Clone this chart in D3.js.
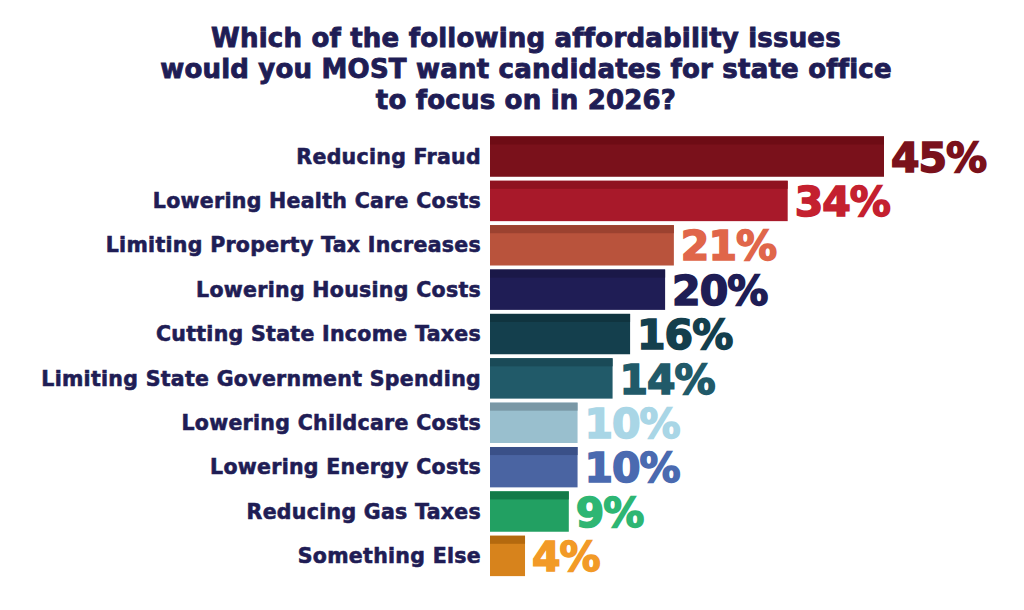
<!DOCTYPE html>
<html><head><meta charset="utf-8">
<script src="https://cdn.jsdelivr.net/npm/d3@7"></script>
<style>body{margin:0;background:#fff}</style></head>
<body><svg id="c" width="1024" height="610"></svg>
<script>
const categories=["Reducing Fraud","Lowering Health Care Costs","Limiting Property Tax Increases","Lowering Housing Costs","Cutting State Income Taxes","Limiting State Government Spending","Lowering Childcare Costs","Lowering Energy Costs","Reducing Gas Taxes","Something Else"];
const values=[45,34,21,20,16,14,10,10,9,4];
const barColors=["#7a111b","#a8192a","#b9533c","#1f1d55","#143f4d","#215a69","#99bfce","#4a64a2","#22a062","#d7831c"];
const topColors=["#6e0c15","#8f1220","#9c4230","#1a1848","#10343f","#1a4a57","#7a98a6","#3a5088","#137a48","#b4690e"];
const labelColors=["#7a111b","#c4202f","#e0664a","#1f1d55","#143f4d","#215a69","#a9d6e6","#4a6ab0","#2eb673","#f29a27"];
const titleLines=["Which of the following affordability issues","would you MOST want candidates for state office","to focus on in 2026?"];
const svg=d3.select("#c");
const font="'DejaVu Sans', sans-serif";
const x=d3.scaleLinear().domain([0,45]).range([490,884]);
const y=d3.scaleBand().domain(categories).range([135.5,577]).paddingInner(0.09).paddingOuter(0.02);
svg.append("g").selectAll("text").data(titleLines).join("text")
 .attr("x",526).attr("y",(d,i)=>47+i*31).attr("text-anchor","middle")
 .attr("font-family",font).attr("font-weight","bold").attr("font-size",26).attr("letter-spacing",0.2)
 .attr("stroke","#1f1d55").attr("stroke-width",0.9).attr("fill","#1f1d55").text(d=>d);
const g=svg.append("g");
categories.forEach((c,i)=>{
 const y0=y(c),h=y.bandwidth(),w=x(values[i])-x(0);
 g.append("rect").attr("x",x(0)).attr("y",y0).attr("width",w).attr("height",h).attr("fill",barColors[i]);
 g.append("rect").attr("x",x(0)).attr("y",y0).attr("width",w).attr("height",h*0.2).attr("fill",topColors[i]);
 g.append("text").attr("x",x(0)-9).attr("y",y0+h/2).attr("dy","0.35em").attr("text-anchor","end")
  .attr("font-family",font).attr("font-weight","bold").attr("font-size",20.5).attr("letter-spacing",0.3)
  .attr("stroke","#1f1d55").attr("stroke-width",0.6).attr("fill","#1f1d55").text(c);
 g.append("text").attr("x",x(values[i])+7).attr("y",y0+h/2).attr("dy","0.37em")
  .attr("font-family",font).attr("font-weight","bold").attr("font-size",41).attr("letter-spacing",-1)
  .attr("stroke",labelColors[i]).attr("stroke-width",1.6).attr("fill",labelColors[i]).text(values[i]+"%");
});
</script></body></html>
